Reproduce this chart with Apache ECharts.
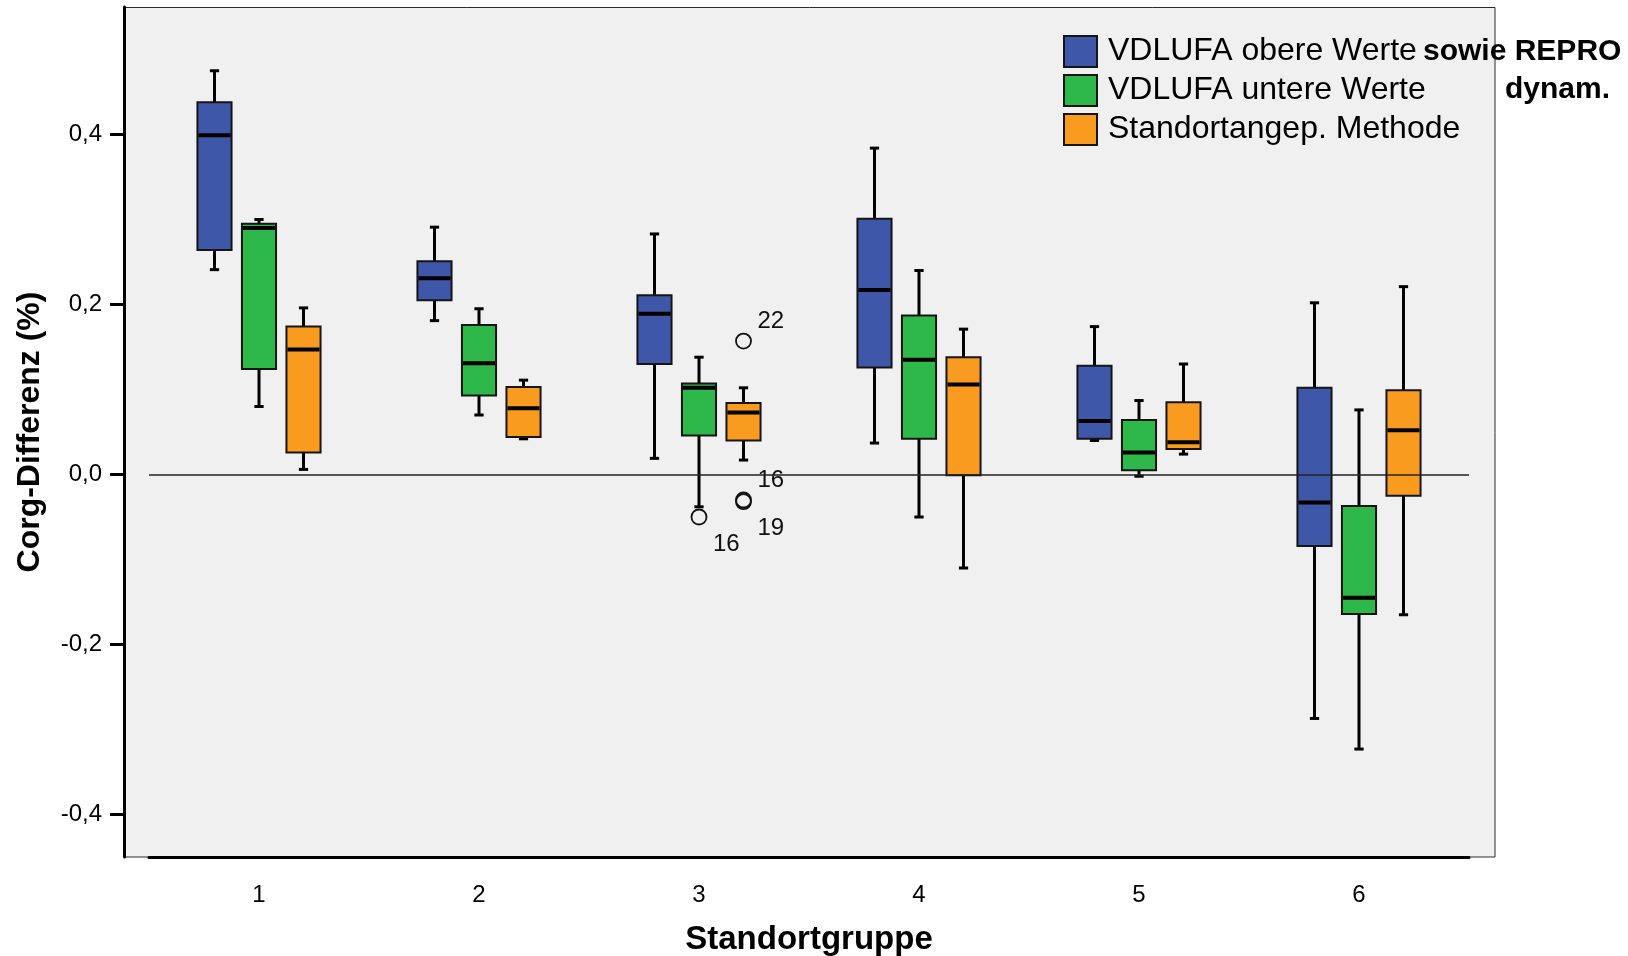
<!DOCTYPE html>
<html>
<head>
<meta charset="utf-8">
<script src="https://cdn.jsdelivr.net/npm/echarts@6/dist/echarts.min.js"></script>
<style>html,body{margin:0;padding:0;background:#fff}#c{width:1628px;height:956px}</style>
</head>
<body>
<div id="c"></div>
<script>
// ---- data ----
const categories = ['1', '2', '3', '4', '5', '6'];
const seriesNames = ['VDLUFA obere Werte', 'VDLUFA untere Werte', 'Standortangep. Methode'];
// per Standortgruppe: [min, Q1, median, Q3, max]
const vdlufaObere = [
  [0.241, 0.264, 0.399, 0.438, 0.475],
  [0.181, 0.205, 0.231, 0.251, 0.291],
  [0.019, 0.130, 0.189, 0.211, 0.283],
  [0.037, 0.126, 0.217, 0.301, 0.384],
  [0.040, 0.042, 0.063, 0.128, 0.174],
  [-0.287, -0.084, -0.033, 0.102, 0.202]
];
const vdlufaUntere = [
  [0.080, 0.124, 0.290, 0.295, 0.300],
  [0.070, 0.093, 0.131, 0.176, 0.195],
  [-0.038, 0.046, 0.102, 0.107, 0.138],
  [-0.050, 0.042, 0.135, 0.187, 0.240],
  [-0.002, 0.005, 0.026, 0.064, 0.087],
  [-0.323, -0.164, -0.145, -0.037, 0.076]
];
const standortangep = [
  [0.006, 0.026, 0.147, 0.174, 0.196],
  [0.042, 0.044, 0.078, 0.103, 0.111],
  [0.017, 0.040, 0.073, 0.084, 0.102],
  [-0.110, -0.001, 0.106, 0.138, 0.171],
  [0.024, 0.030, 0.038, 0.085, 0.130],
  [-0.165, -0.025, 0.052, 0.099, 0.221]
];
const outlierGroup = [2, 2, 2, 2];      // category index
const outlierSeries = [1, 2, 2, 2];     // which box series
const outlierValues = [-0.050, 0.157, -0.030, -0.032];
const outlierIds = ['16', '22', '16', '19'];
const yTicks = [-0.4, -0.2, 0, 0.2, 0.4];

// ---- styling / layout ----
const FONT = 'Liberation Sans, Arial, sans-serif';
const COLORS = ['#3e57a8', '#2fb84a', '#f99b1f'];
const OFFSET = [-0.2023, 0, 0.2023];
const BOX_W = 0.155;
const CAP_W = 0.042;
const LABEL_SIDE = [1, -1, -1, 1]; // +1 below, -1 above

function boxRender(si) {
  return function (params, api) {
    const c = api.value(0);
    const band = api.size([1, 0])[0];
    const x = api.coord([c, 0])[0] + band * OFFSET[si];
    const y = k => api.coord([c, api.value(k)])[1];
    const yMin = y(1), yQ1 = y(2), yMed = y(3), yQ3 = y(4), yMax = y(5);
    const hw = band * BOX_W / 2, cw = band * CAP_W / 2;
    const line = (x1, y1, x2, y2, w) => ({
      type: 'line', shape: { x1, y1, x2, y2 }, style: { stroke: '#000', lineWidth: w }
    });
    return {
      type: 'group',
      children: [
        line(x, yQ3, x, yMax, 3), line(x, yQ1, x, yMin, 3),
        line(x - cw, yMax, x + cw, yMax, 3), line(x - cw, yMin, x + cw, yMin, 3),
        { type: 'rect', shape: { x: x - hw, y: yQ3, width: 2 * hw, height: yQ1 - yQ3 },
          style: { fill: api.visual('color'), stroke: '#151515', lineWidth: 2 } },
        line(x - hw + 1, yMed, x + hw - 1, yMed, 4)
      ]
    };
  };
}

function outlierRender(params, api) {
  const c = api.value(0);
  const si = api.value(2);
  const idx = api.value(3);
  const band = api.size([1, 0])[0];
  const p = api.coord([c, api.value(1)]);
  const x = p[0] + band * OFFSET[si];
  const side = LABEL_SIDE[idx];
  return {
    type: 'group',
    children: [
      { type: 'circle', shape: { cx: x, cy: p[1], r: 7.5 },
        style: { fill: 'none', stroke: '#111', lineWidth: 1.8 } },
      { type: 'text', x: x + 14, y: p[1] + (side > 0 ? 27 : -20),
        style: { text: outlierIds[idx], fontSize: 24, fontFamily: FONT, fill: '#111',
                 align: 'left', verticalAlign: 'middle' } }
    ]
  };
}

const boxData = [vdlufaObere, vdlufaUntere, standortangep];
const series = boxData.map((arr, si) => ({
  type: 'custom',
  name: seriesNames[si],
  itemStyle: { color: COLORS[si] },
  encode: { x: 0, y: [1, 2, 3, 4, 5] },
  data: arr.map((d, i) => [i].concat(d)),
  renderItem: boxRender(si)
}));
series.push({
  type: 'custom',
  name: 'Ausreißer',
  z: 4,
  encode: { x: 0, y: 1 },
  data: outlierValues.map((v, i) => [outlierGroup[i], v, outlierSeries[i], i]),
  renderItem: outlierRender
});
series[2].markLine = {
  silent: true,
  symbol: ['none', 'none'],
  label: { show: false },
  lineStyle: { color: '#222', width: 1.5, type: 'solid' },
  data: [{ yAxis: 0 }]
};

const chart = echarts.init(document.getElementById('c'), null, { renderer: 'canvas' });
chart.setOption({
  animation: false,
  textStyle: { fontFamily: FONT },
  graphic: [{
    type: 'rect', z: -10,
    shape: { x: 124, y: 7.5, width: 1371, height: 849.5 },
    style: { fill: '#f0f0f0', stroke: '#2a2a2a', lineWidth: 1 }
  }],
  title: [
    { text: 'sowie REPRO', left: 1423, top: 37, padding: 0,
      textStyle: { fontSize: 30, fontWeight: 'bold', color: '#000', fontFamily: FONT } },
    { text: 'dynam.', left: 1505, top: 75, padding: 0,
      textStyle: { fontSize: 30, fontWeight: 'bold', color: '#000', fontFamily: FONT } }
  ],
  legend: {
    data: seriesNames,
    orient: 'vertical',
    left: 1063, top: 35, padding: 0,
    icon: 'rect', itemWidth: 33, itemHeight: 31, itemGap: 6,
    selectedMode: false,
    itemStyle: { borderColor: '#151515', borderWidth: 2 },
    textStyle: { fontSize: 32, color: '#000', fontFamily: FONT, lineHeight: 31, padding: [0, 0, 0, 6] }
  },
  grid: { left: 149, right: 159, top: 7, bottom: 99, containLabel: false, outerBoundsMode: 'none' },
  xAxis: {
    type: 'category',
    data: categories,
    name: 'Standortgruppe',
    nameLocation: 'middle',
    nameGap: 66,
    nameTextStyle: { fontSize: 33, fontWeight: 'bold', color: '#000', fontFamily: FONT },
    axisLine: { onZero: false, lineStyle: { color: '#000', width: 3 } },
    axisTick: { alignWithLabel: true, length: 16, lineStyle: { color: '#000', width: 2.5 } },
    axisLabel: { margin: 26, fontSize: 24, color: '#000', fontFamily: FONT },
    splitLine: { show: false }
  },
  yAxis: {
    type: 'value',
    min: -0.45, max: 0.55,
    offset: 25,
    position: 'left',
    name: 'Corg-Differenz (%)',
    nameLocation: 'middle',
    nameGap: 78,
    nameTextStyle: { fontSize: 32, fontWeight: 'bold', color: '#000', fontFamily: FONT },
    axisLine: { show: true, lineStyle: { color: '#000', width: 3 } },
    axisTick: { show: true, length: 14, customValues: yTicks, lineStyle: { color: '#000', width: 3 } },
    axisLabel: { customValues: yTicks, margin: 22, fontSize: 24, color: '#000', fontFamily: FONT,
                 formatter: v => v.toFixed(1).replace('.', ',') },
    splitLine: { show: false }
  },
  series: series
});
</script>
</body>
</html>
